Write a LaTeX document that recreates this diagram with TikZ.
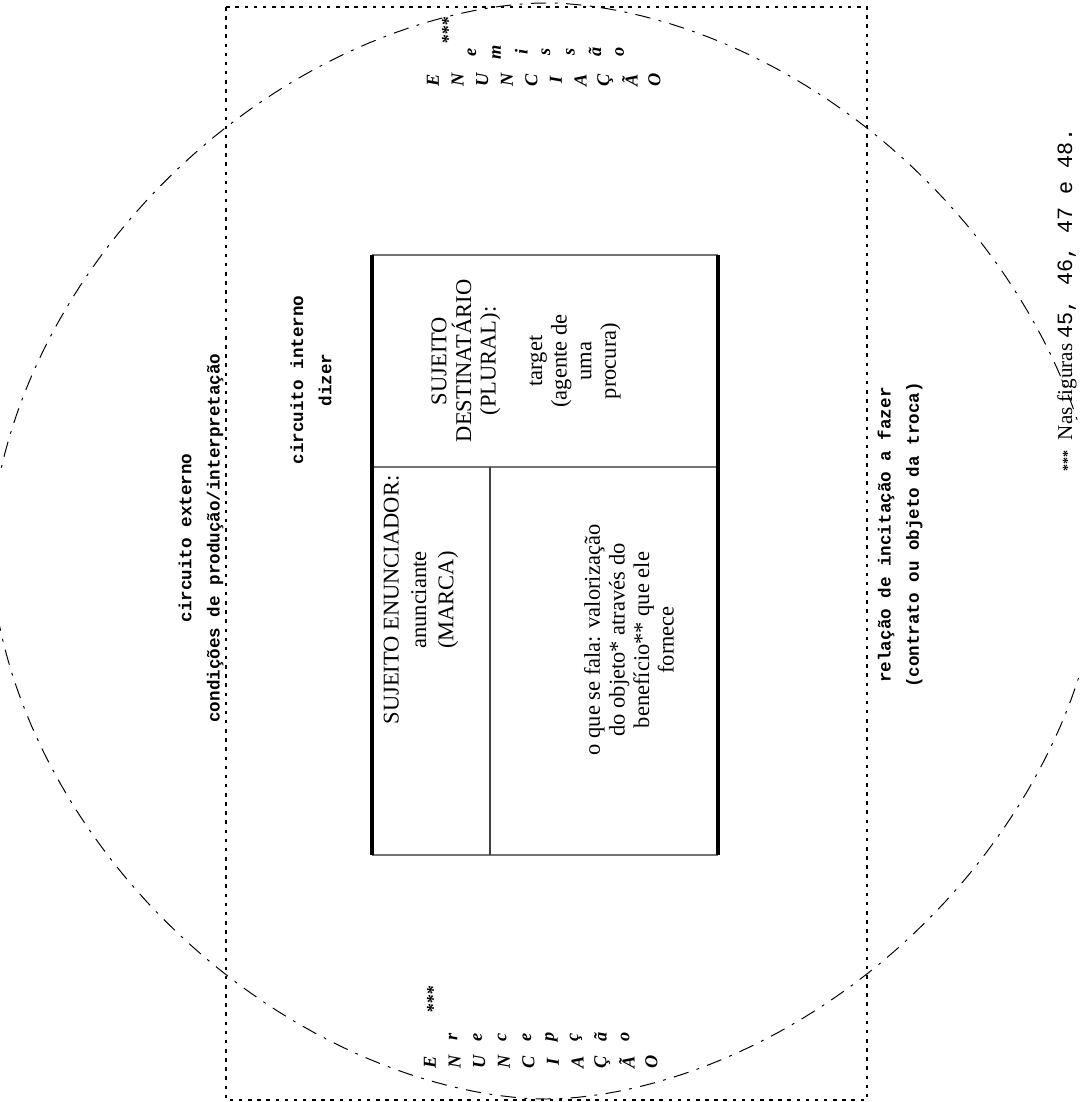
\documentclass[tikz,border=0pt]{standalone}
\usepackage{fontspec}
\setmainfont{Liberation Serif}
\setmonofont{Liberation Mono}

\begin{document}
\begin{tikzpicture}[
    x=0.025cm, y=-0.025cm,
    boxtxt/.style={font=\fontsize{16}{17.5}\selectfont, align=center, rotate=90, inner sep=0pt},
    lbl/.style={font=\fontsize{12.5}{20}\selectfont\ttfamily\bfseries, align=center, rotate=90, inner sep=0pt},
    vletter/.style={font=\fontsize{13}{13}\selectfont\bfseries\itshape, rotate=90, inner sep=0pt},
    frame/.style={line width=0.9pt, dash pattern=on 2.5pt off 4pt},
    orbit/.style={line width=0.7pt, dash pattern=on 11pt off 6pt on 2pt off 6pt},
    heavy/.style={line width=2.6pt},
    hatch/.style={draw=black!55, line width=1.8pt}
]
    \useasboundingbox (0,0) rectangle (1079,1102);
    \clip (0,0) rectangle (1079,1102);

    % outer circuit and frame
    \draw[orbit] plot[domain=0:360, samples=241]
        ({546+555*cos(\x)*pow(abs(cos(\x))+0.0001,0.111)},
         {551+548*sin(\x)*pow(abs(sin(\x))+0.0001,0.111)}) -- cycle;
    \draw[frame] (226,7) rectangle (867,1100);

    % the box
    \coordinate (boxnw) at (372,255);
    \coordinate (boxne) at (718,255);
    \coordinate (boxsw) at (372,855);
    \coordinate (boxse) at (718,855);
    \coordinate (midw) at (372,467);
    \coordinate (mide) at (718,467);
    \coordinate (midc) at (490,467);
    \coordinate (midb) at (490,855);
    \draw[hatch] (boxnw) -- (boxne);
    \draw[hatch] (boxsw) -- (boxse);
    \draw[hatch] (midw) -- (mide);
    \draw[hatch, draw=black!75, line width=2pt] (midc) -- (midb);
    \draw[heavy] (boxnw) -- (boxsw);
    \draw[heavy] (boxne) -- (boxse);

    \node[boxtxt] (dest) at (466,361) {SUJEITO\\DESTINATÁRIO\\(PLURAL):};
    \node[boxtxt] (destbody) at (575,361) {target\\(agente de\\uma\\procura)};
    \node[boxtxt, font=\fontsize{16}{19.5}\selectfont] (enun) at (421,600)
        {SUJEITO ENUNCIADOR:\\anunciante\\(MARCA)};
    \node[boxtxt] (fala) at (629,640)
        {o que se fala: valorização\\do objeto* através do\\benefício** que ele\\fornece};

    % circuit labels
    \node[lbl] (ext) at (201,538) {circuito externo\\condições de produção/interpretação};
    \node[lbl] (int) at (311,380) {circuito interno\\dizer};
    \node[lbl] (troca) at (900,535) {relação de incitação a fazer\\(contrato ou objeto da troca)};

    % stacked words
    \node[vletter] (astA) at (448,31) {***};
    \foreach \ch [count=\i from 0] in {E,N,U,N,C,I,A,Ç,Ã,O}
        \node[vletter] (enA\i) at (433+24.6*\i,80) {\ch};
    \foreach \ch [count=\i from 0] in {e,m,i,s,s,ã,o}
        \node[vletter] (emi\i) at (472+24.6*\i,52) {\ch};
    \node[vletter] (astB) at (433,1000) {***};
    \foreach \ch [count=\i from 0] in {E,N,U,N,C,I,A,Ç,Ã,O}
        \node[vletter] (enB\i) at (430+24.6*\i,1062) {\ch};
    \foreach \ch [count=\i from 0] in {r,e,c,e,p,ç,ã,o}
        \node[vletter] (rec\i) at (453+24.6*\i,1037) {\ch};

    \node[rotate=90, anchor=west, inner sep=0pt, font=\fontsize{15}{18}\selectfont] (note) at (1067,472)
        {{\bfseries\fontsize{10}{10}\selectfont ***}\ \ Nas figuras {\fontsize{15.5}{18}\selectfont\ttfamily 45, 46, 47 e 48.}};
\end{tikzpicture}
\end{document}
